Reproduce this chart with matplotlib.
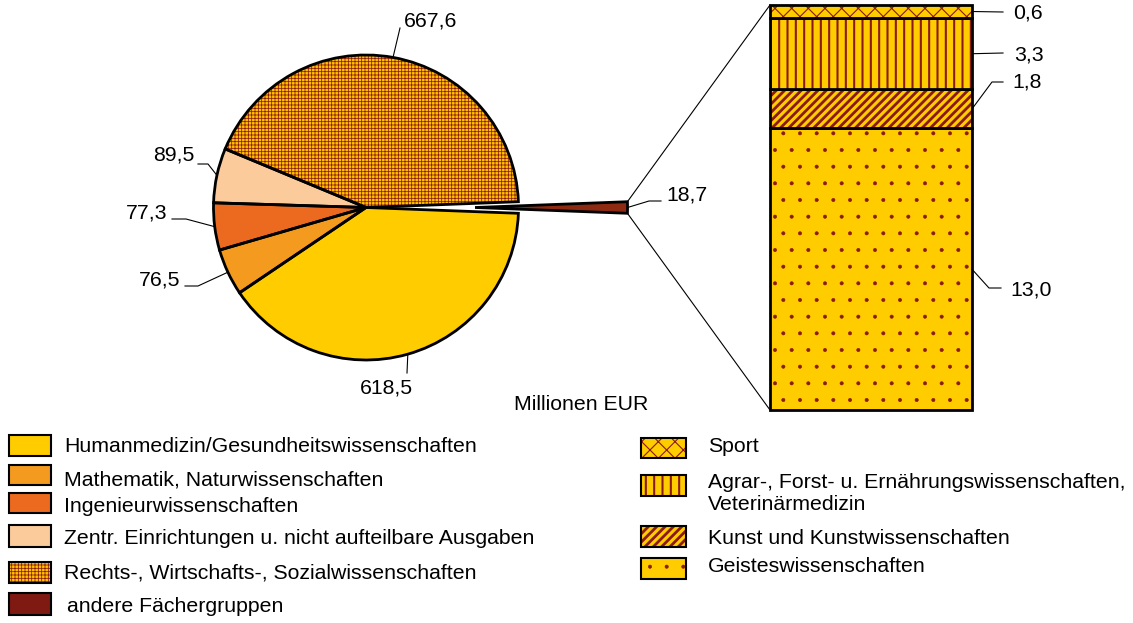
import numpy as np
import matplotlib
matplotlib.use("Agg")
import matplotlib.pyplot as plt
from matplotlib.patches import Rectangle, ConnectionPatch

plt.rcParams['font.family'] = ['Liberation Sans', 'DejaVu Sans']
plt.rcParams['font.size'] = 15.3

# data (Millionen EUR)
pie_labels = ["Humanmedizin/Gesundheitswissenschaften", "Mathematik, Naturwissenschaften",
              "Ingenieurwissenschaften", "Zentr. Einrichtungen u. nicht aufteilbare Ausgaben",
              "Rechts-, Wirtschafts-, Sozialwissenschaften", "andere Fächergruppen"]
pie_values = [618.5, 76.5, 77.3, 89.5, 667.6, 18.7]
pie_text = ["618,5", "76,5", "77,3", "89,5", "667,6", "18,7"]

bar_labels = ["Geisteswissenschaften", "Kunst und Kunstwissenschaften",
              "Agrar-, Forst- u. Ernährungswissenschaften,\nVeterinärmedizin", "Sport"]
bar_values = [13.0, 1.8, 3.3, 0.6]
bar_text = ["13,0", "1,8", "3,3", "0,6"]

pie_colors = ["#FFCC00", "#F39A1F", "#EB6A1F", "#FBCB9C", "#FFC000", "#8E2A12"]
pie_hatch = [None, None, None, None, "+++++", None]
bar_hatch = [".", "////", "||", "xx"]
hatch_lw = {None: 1.0, "+++++": 0.55, ".": 0.4, "////": 2.0, "||": 1.5, "xx": 0.8}
dark = "#8B1A10"
yellow = "#FFCC00"

W, H = 1133, 623
fig = plt.figure(figsize=(W / 100, H / 100), dpi=100)

# pie axes covers the whole figure, 1 unit = R pixels
R = 152.5
cx, cy = 366, 207.5
ax = fig.add_axes([0, 0, 1, 1])


def px(x, y):
    return (x - cx) / R, (cy - y) / R


total = sum(pie_values)
start = -pie_values[-1] / 2 / total * 360
explode = [0, 0, 0, 0, 0, 0.715]

plt.rcParams['hatch.linewidth'] = hatch_lw["+++++"]
wedges, _ = ax.pie(pie_values, colors=pie_colors, startangle=start, counterclock=False,
                   explode=explode, hatch=pie_hatch,
                   wedgeprops=dict(linewidth=0, edgecolor=dark))
ax.pie(pie_values, colors=["none"] * 6, startangle=start, counterclock=False, explode=explode,
       wedgeprops=dict(linewidth=2.0, edgecolor="black", fill=False))
for w in ax.patches:
    w.set_clip_on(False)
ax.set_aspect("auto")
ax.set_xlim(-cx / R, (W - cx) / R)
ax.set_ylim(-(H - cy) / R, cy / R)
ax.axis("off")

# label leader lines: elbow points and label anchor (pixels)
leaders = [
    ([(407, 373)], (386, 388), "center"),
    ([(198, 286), (185, 286)], (180, 280), "right"),
    ([(186, 219), (172, 219)], (167, 213), "right"),
    ([(208, 164), (198, 164)], (194, 155), "right"),
    ([(400, 28)], (404, 21), "left"),
    ([(649, 201), (661, 201)], (666, 195), "left"),
]
for w, (pts, tpos, ha) in zip(wedges, leaders):
    mid = np.deg2rad((w.theta1 + w.theta2) / 2)
    x0 = w.center[0] + w.r * np.cos(mid)
    y0 = w.center[1] + w.r * np.sin(mid)
    xs = [x0] + [px(*p)[0] for p in pts]
    ys = [y0] + [px(*p)[1] for p in pts]
    ax.plot(xs, ys, color="black", lw=0.8, clip_on=False)
for t, (pts, tpos, ha) in zip(pie_text, leaders):
    ax.text(*px(*tpos), t, ha=ha, va="center")

# bar of pie
bax = fig.add_axes([770 / W, 1 - 410 / H, 202 / W, 405 / H])
bottoms = np.concatenate([[0], np.cumsum(bar_values)[:-1]])
for v, b, h in zip(bar_values, bottoms, bar_hatch):
    plt.rcParams['hatch.linewidth'] = hatch_lw[h]
    bax.bar(0, v, bottom=b, width=1, color=yellow, edgecolor=dark, linewidth=0, hatch=h)
    bax.bar(0, v, bottom=b, width=1, fill=False, edgecolor="black", linewidth=2.0, clip_on=False)
bax.set_xlim(-0.5, 0.5)
bax.set_ylim(0, sum(bar_values))
bax.axis("off")

# bar labels
bar_leaders = [
    [(989, 288), (1001, 288)],
    [(992, 82), (1003, 82)],
    [(1003, 53)],
    [(1003, 12)],
]
bar_tpos = [(1010, 290), (1012, 82), (1014, 55), (1013, 13)]
for v, b, pts, t, tp in zip(bar_values, bottoms, bar_leaders, bar_text, bar_tpos):
    p0 = fig.transFigure.inverted().transform(bax.transData.transform((0.5, b + v / 2)))
    xs = [p0[0]] + [p[0] / W for p in pts]
    ys = [p0[1]] + [1 - p[1] / H for p in pts]
    fig.add_artist(plt.Line2D(xs, ys, color="black", lw=0.8))
    fig.text(tp[0] / W, 1 - tp[1] / H, t, ha="left", va="center")

# connectors from exploded wedge to bar
ow = wedges[-1]
top_pt = (ow.center[0] + ow.r * np.cos(np.deg2rad(ow.theta2)),
          ow.center[1] + ow.r * np.sin(np.deg2rad(ow.theta2)))
bot_pt = (ow.center[0] + ow.r * np.cos(np.deg2rad(ow.theta1)),
          ow.center[1] + ow.r * np.sin(np.deg2rad(ow.theta1)))
for p, yb in [(top_pt, sum(bar_values)), (bot_pt, 0)]:
    con = ConnectionPatch(xyA=p, coordsA=ax.transData, xyB=(-0.5, yb), coordsB=bax.transData,
                          color="black", lw=0.8)
    fig.add_artist(con)

fig.text(581 / W, 1 - 404 / H, "Millionen EUR", ha="center", va="center")


# legends drawn by hand
def legend_box(x0, y0, x1, y1, face, hatch):
    plt.rcParams['hatch.linewidth'] = hatch_lw[hatch]
    fig.add_artist(Rectangle((x0 / W, 1 - y1 / H), (x1 - x0) / W, (y1 - y0) / H, transform=fig.transFigure,
                             facecolor=face, edgecolor=dark, linewidth=0, hatch=hatch))
    fig.add_artist(Rectangle((x0 / W, 1 - y1 / H), (x1 - x0) / W, (y1 - y0) / H, transform=fig.transFigure,
                             fill=False, edgecolor="black", linewidth=1.5))


left_rows = [(435, 456, 447), (465, 485, 480), (493, 513, 507), (525, 547, 539), (562, 583, 573), (593, 615, 607)]
for lab, c, h, (y0, y1, yt) in zip(pie_labels, pie_colors, pie_hatch, left_rows):
    face = "#7E1A12" if lab.startswith("andere") else c
    legend_box(9, y0, 51, y1, face, h)
    fig.text((67 if lab.startswith("andere") else 64) / W, 1 - yt / H, lab, ha="left", va="center")

right_rows = {"Sport": (438, 458, 446), "Agrar": (475, 496, 493),
              "Kunst": (526, 547, 538), "Geistes": (558, 579, 567)}
for lab, h in zip(bar_labels[::-1], bar_hatch[::-1]):
    y0, y1, yt = right_rows[lab.split("-")[0].split(" ")[0].replace("wissenschaften", "")]
    legend_box(641, y0, 686, y1, yellow, h)
    fig.text(708 / W, 1 - yt / H, lab, ha="left", va="center", linespacing=1.2)

fig.savefig("out.png", dpi=100)
